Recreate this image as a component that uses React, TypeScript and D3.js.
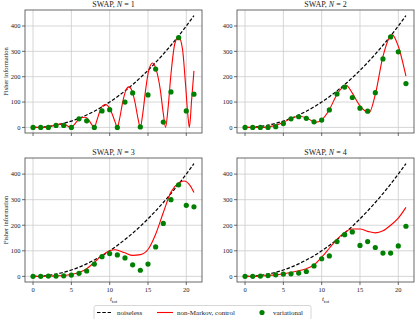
import React from "react";
import * as d3 from "d3";

// time steps for the dots and the noiseless curve
const steps = d3.range(0, 22);
const noiseless = [0, 1, 4, 9, 16, 25, 36, 49, 64, 81, 100, 121, 144, 169, 196, 225, 256, 289, 324, 361, 400, 441];

// variational (green dots), one value per step
const variational1 = [0, 0, 0, 8, 8, 0, 34, 26, 0, 65, 70, 0, 100, 136, 2, 128, 230, 21, 140, 354, 65, 131];
const variational2 = [0, 0, 0, 0, 3, 15, 34, 42, 36, 22, 29, 69, 132, 159, 118, 76, 64, 137, 270, 357, 298, 173];
const variational3 = [0, 0, 1, 1, 2, 5, 12, 21, 48, 77, 89, 84, 72, 45, 24, 48, 115, 207, 300, 358, 278, 272];
const variational4 = [0, 0, 1, 3, 6, 9, 10, 13, 19, 41, 69, 80, 136, 163, 174, 121, 136, 113, 91, 91, 119, 196];

// non-Markov control (red), read at uneven times
const controlT1 = [
  0, 1, 2, 3, 3.7, 4.3, 5, 5.4, 5.9, 6.4, 6.8, 7.2, 7.6, 8, 8.3, 8.7, 9.1, 9.5, 9.9, 10.3, 10.7, 11,
  11.3, 11.7, 12.1, 12.5, 12.9, 13.3, 13.7, 14, 14.3, 14.7, 15.1, 15.6, 16.1, 16.6, 17.0, 17.3,
  17.6, 18.0, 18.5, 19.0, 19.5, 19.9, 20.2, 20.4, 20.7, 21,
];
const control1 = [
  0, 0, 2, 10, 14, 9, 0, 12, 30, 39, 40, 32, 14, 0, 25, 62, 86, 90, 80, 55, 22, 0,
  35, 100, 145, 160, 145, 100, 35, 0, 50, 150, 225, 254, 225, 150, 55, 0,
  70, 210, 330, 358, 310, 170, 50, 0, 110, 223,
];
const controlT2 = [0, 1, 2, 3, 4, 5, 6, 7, 8, 9.2, 10, 11, 12, 13.2, 14, 15, 16.2, 17, 18, 19.2, 20, 21];
const control2 = [0, 0, 0, 2, 8, 20, 35, 44, 38, 20, 30, 70, 130, 166, 135, 85, 58, 130, 280, 366, 320, 202];
const controlT3 = [0, 1, 2, 3, 4, 5, 6, 7, 8, 9, 10, 10.7, 12, 13, 14, 15, 16, 17, 18, 19, 19.7, 20.5, 21];
const control3 = [0, 0, 1, 2, 3, 8, 15, 30, 55, 82, 100, 104, 92, 82, 85, 105, 165, 250, 330, 365, 373, 355, 328];
const controlT4 = [0, 1, 2, 3, 4, 5, 6, 7, 8, 9, 10, 11, 12, 13, 14, 15, 16, 17, 18, 19, 20, 21];
const control4 = [0, 0, 1, 4, 6, 10, 15, 22, 30, 45, 75, 110, 145, 172, 185, 185, 176, 170, 178, 200, 228, 270];

const xTicks = [0, 5, 10, 15, 20];
const yTicks = [0, 100, 200, 300, 400];

const panels = [
  { n: 1, left: 25, top: 10, height: 123, dots: variational1, ct: controlT1, cv: control1 },
  { n: 2, left: 237, top: 10, height: 123, dots: variational2, ct: controlT2, cv: control2 },
  { n: 3, left: 25, top: 158, height: 124, dots: variational3, ct: controlT3, cv: control3 },
  { n: 4, left: 237, top: 158, height: 124, dots: variational4, ct: controlT4, cv: control4 },
];

const FONT = "'Liberation Serif', 'DejaVu Serif', serif";
const W = 177;

const Panel = ({ p }: { p: (typeof panels)[number] }) => {
  const x = d3.scaleLinear().domain([-1.05, 22.05]).range([p.left, p.left + W]);
  const y = d3.scaleLinear().domain([-22.05, 463.05]).range([p.top + p.height, p.top]);
  const bottom = p.top + p.height;
  const showX = p.n >= 3;
  const showYLabel = p.n % 2 === 1;

  const dashLine = d3
    .line<number>()
    .x((_, i) => x(steps[i]))
    .y((d) => y(d))
    .curve(d3.curveMonotoneX)(noiseless);
  const redLine = d3
    .line<number>()
    .x((_, i) => x(p.ct[i]))
    .y((d) => y(d))
    .curve(d3.curveMonotoneX)(p.cv);

  return (
    <g>
      <clipPath id={`clip${p.n}`}>
        <rect x={p.left} y={p.top} width={W} height={p.height} />
      </clipPath>
      {xTicks.map((t) => (
        <line key={"gx" + t} x1={x(t)} x2={x(t)} y1={p.top} y2={bottom} stroke="#cccccc" strokeWidth={0.8} />
      ))}
      {yTicks.map((t) => (
        <line key={"gy" + t} x1={p.left} x2={p.left + W} y1={y(t)} y2={y(t)} stroke="#cccccc" strokeWidth={0.8} />
      ))}
      <g clipPath={`url(#clip${p.n})`}>
        <path d={dashLine || ""} fill="none" stroke="#000" strokeWidth={1.2} strokeDasharray="3.5,1.8" />
        <path d={redLine || ""} fill="none" stroke="#ff0000" strokeWidth={1.1} />
        {p.dots.map((v, i) => (
          <circle key={i} cx={x(steps[i])} cy={y(v)} r={2.6} fill="#008000" />
        ))}
      </g>
      <rect x={p.left} y={p.top} width={W} height={p.height} fill="none" stroke="#444" strokeWidth={0.8} />
      {xTicks.map((t) => (
        <g key={"tx" + t}>
          <line x1={x(t)} x2={x(t)} y1={bottom} y2={bottom + 3} stroke="#444" strokeWidth={0.8} />
          {showX && (
            <text x={x(t)} y={bottom + 10} textAnchor="middle" fontSize={6.5} fill="#222">
              {t}
            </text>
          )}
        </g>
      ))}
      {yTicks.map((t) => (
        <g key={"ty" + t}>
          <line x1={p.left - 3} x2={p.left} y1={y(t)} y2={y(t)} stroke="#444" strokeWidth={0.8} />
          <text x={p.left - 4.5} y={y(t) + 2.3} textAnchor="end" fontSize={6.5} fill="#222">
            {t}
          </text>
        </g>
      ))}
      <text x={p.left + W / 2} y={p.top - 3} textAnchor="middle" fontSize={8} fill="#222">
        SWAP, <tspan fontStyle="italic">N</tspan> = {p.n}
      </text>
      {showYLabel && (
        <text
          transform={`translate(8,${p.top + p.height / 2}) rotate(-90)`}
          textAnchor="middle"
          fontSize={6.5}
          fill="#222"
        >
          Fisher information
        </text>
      )}
      {showX && (
        <text x={p.left + W / 2} y={bottom + 19} textAnchor="middle" fontSize={7} fill="#222">
          <tspan fontStyle="italic">t</tspan>
          <tspan fontSize={5} dy={1.5}>tot</tspan>
        </text>
      )}
    </g>
  );
};

export default function App() {
  return (
    <svg width={415} height={319} style={{ position: "absolute", left: 0, top: 0, background: "#fff" }} fontFamily={FONT}>
      {panels.map((p) => (
        <Panel key={p.n} p={p} />
      ))}
      <g>
        <rect x={94} y={305.5} width={217} height={15} rx={2} fill="#fff" stroke="#cccccc" strokeWidth={0.8} />
        <line x1={97} x2={111} y1={312.5} y2={312.5} stroke="#000" strokeWidth={1.2} strokeDasharray="3.5,1.8" />
        <text x={117} y={315} fontSize={7} fill="#222">noiseless</text>
        <line x1={157} x2={173} y1={312.5} y2={312.5} stroke="#ff0000" strokeWidth={1.1} />
        <text x={177} y={315} fontSize={7} fill="#222">non-Markov, control</text>
        <circle cx={262} cy={312.5} r={2.6} fill="#008000" />
        <text x={273} y={315} fontSize={7} fill="#222">variational</text>
      </g>
    </svg>
  );
}
